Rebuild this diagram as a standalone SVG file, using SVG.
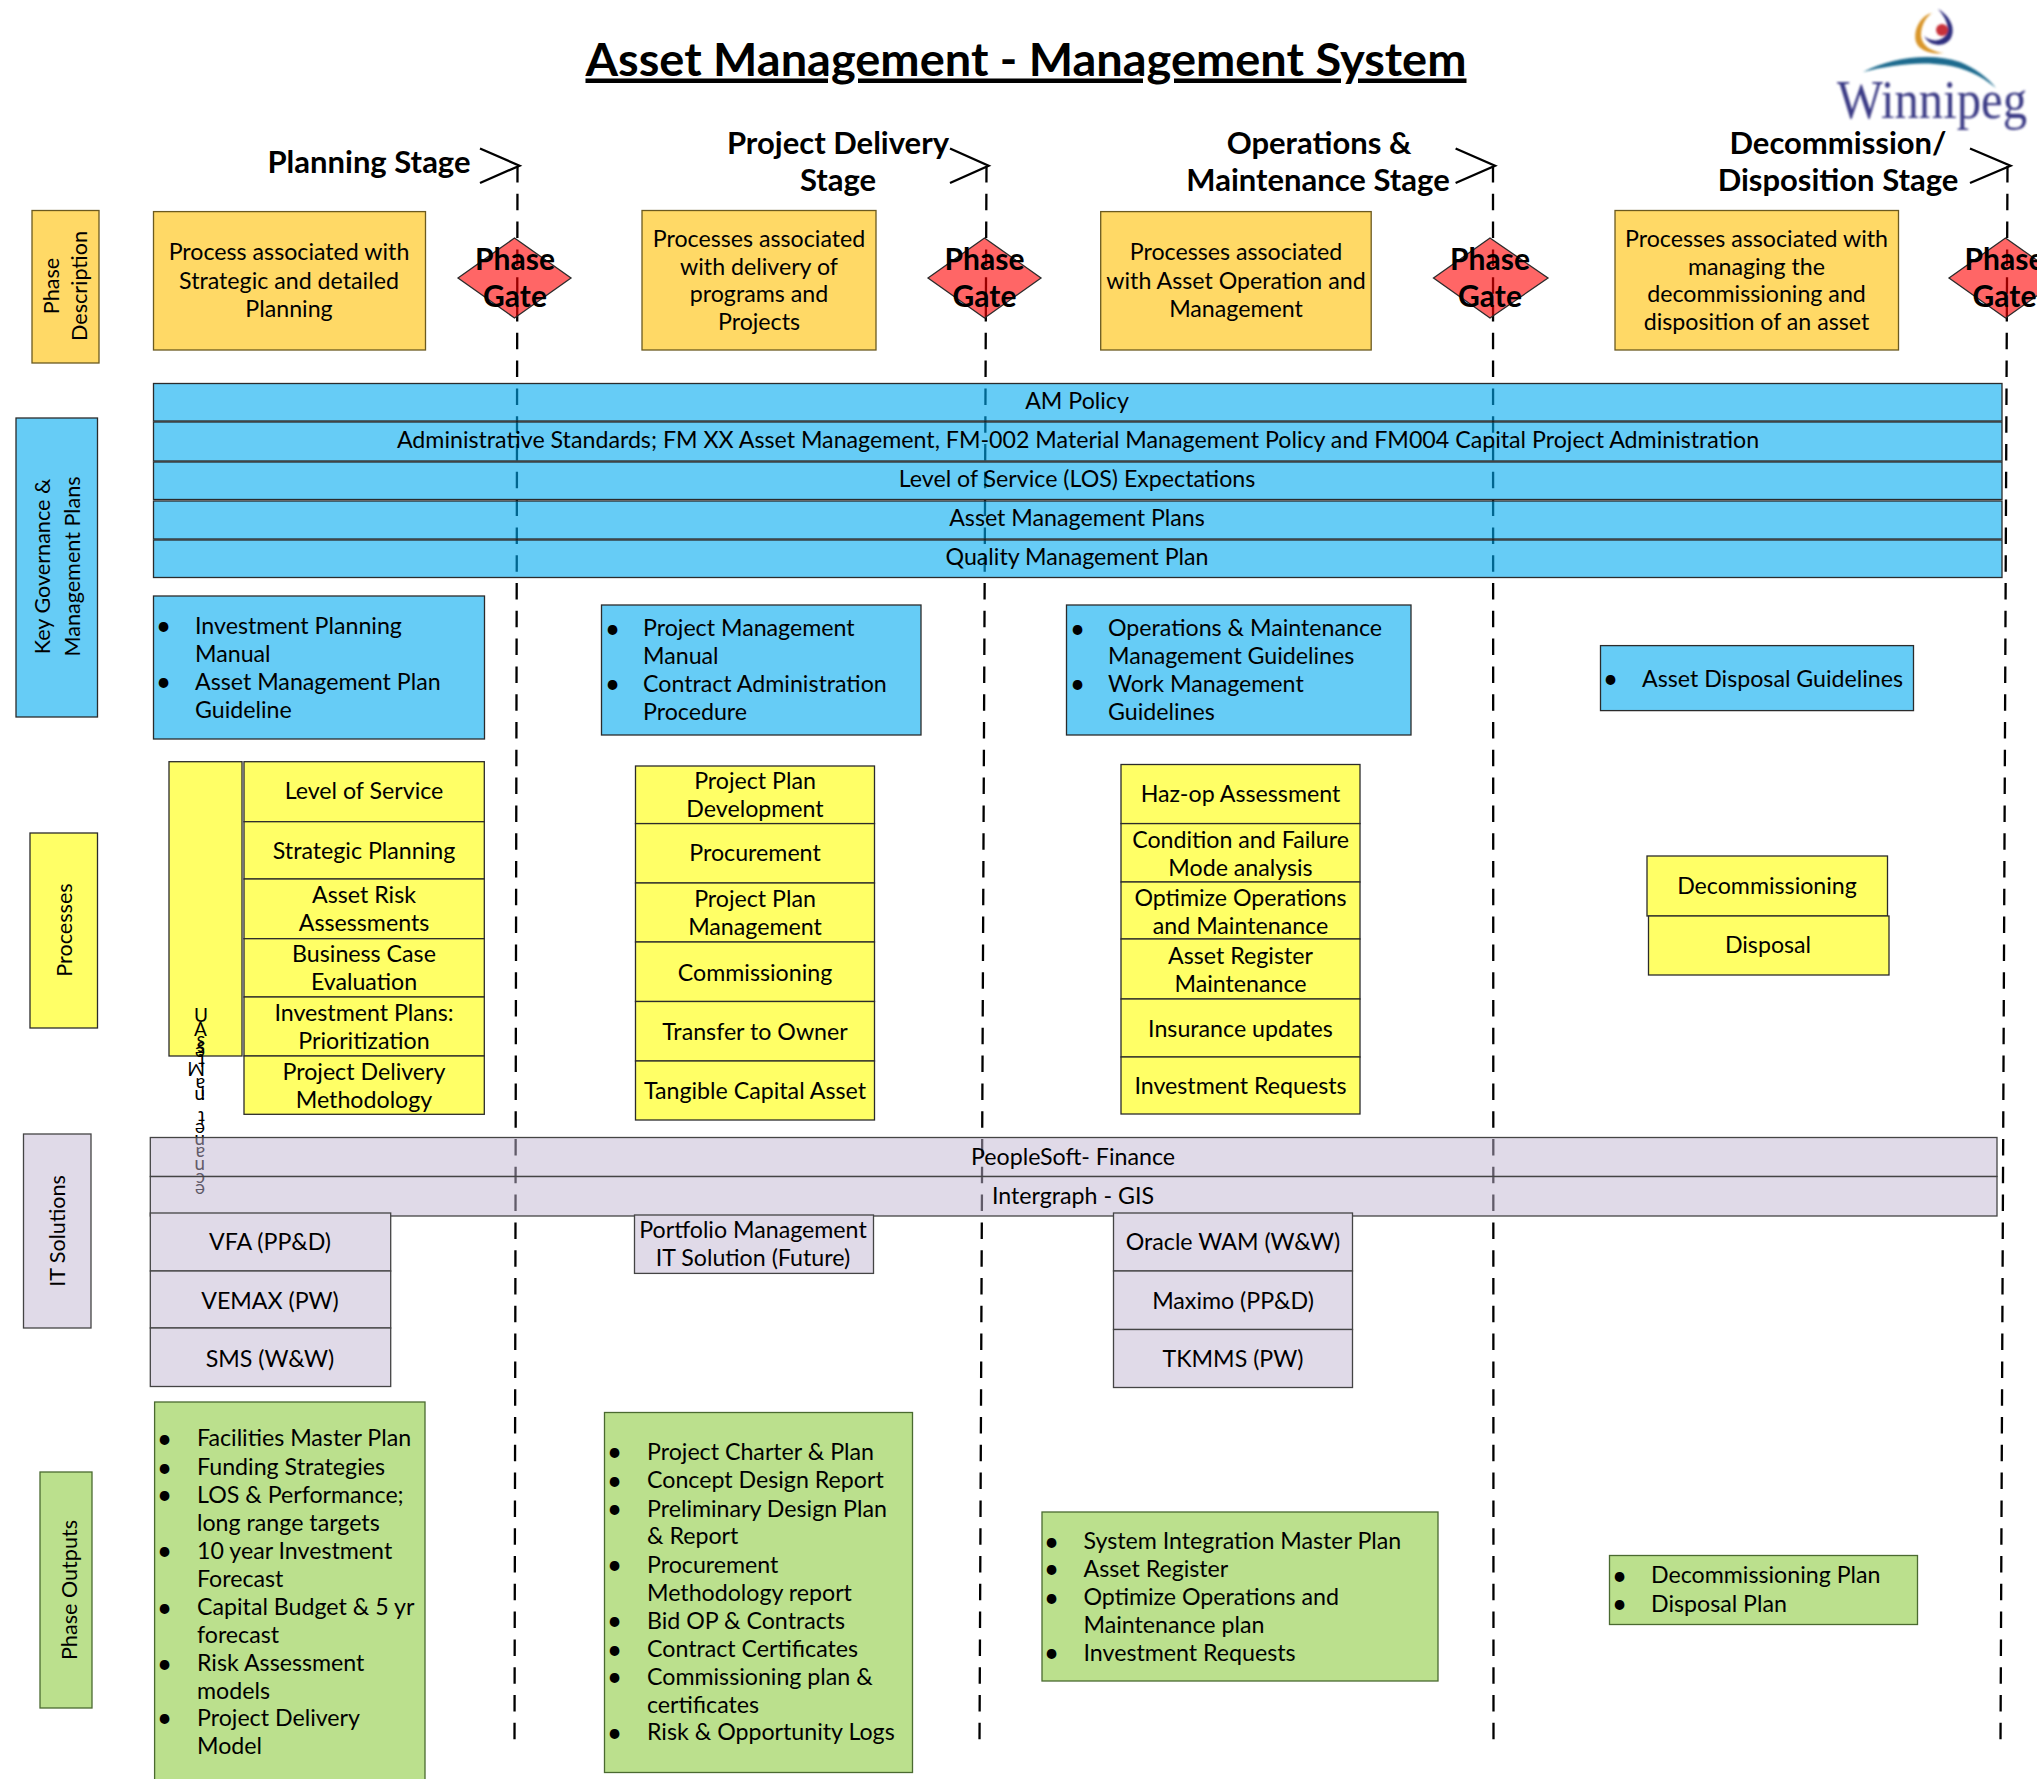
<svg xmlns="http://www.w3.org/2000/svg" width="2037" height="1779" viewBox="0 0 2037 1779">
<defs>
<style>
text{font-family:"Lato","Carlito","Noto Sans",sans-serif;font-size:23.2px;fill:#000}
.m{text-anchor:middle}
.r{font-size:21.6px}
.t{font-size:45px;font-weight:700;text-decoration:underline}
.h{font-size:31px;font-weight:700}
.g{font-size:30px;font-weight:700}
.b{font-size:26px}
rect,polygon.d{stroke:#2b2b2b;stroke-width:1.3}
.o{fill:#FFD966;stroke:#6b5a20}
.bl{fill:#66CCF6}
.bt{fill:#00AAF0;fill-opacity:.6}
.y{fill:#FFFF66}
.p{fill:#E0DAE8;stroke:#444}
.pt{fill:#C1B5D1;fill-opacity:.5;stroke:#444}
.gr{fill:#BBE08D;stroke:#4a6a30}
.d{fill:#FF0000;fill-opacity:.6}
.da{fill:none;stroke:#000;stroke-width:2.3;stroke-dasharray:16.5 11.3}
.ar{fill:none;stroke:#000;stroke-width:2.3}
</style>
<filter id="blur" x="-5%" y="-5%" width="110%" height="110%"><feGaussianBlur stdDeviation="0.9"/></filter>
</defs>
<rect width="2037" height="1779" style="fill:#fff;stroke:none"/>

<g id="connectors">
<path class="da" d="M517.5 166L514.5 1743"/>
<path class="da" d="M986.5 166L979.5 1743"/>
<path class="da" d="M1493 166L1493.5 1743"/>
<path class="da" d="M2007.5 166L2000.5 1743"/>
<path class="ar" d="M480 148.5L519.5 165.7L480 183"/>
<path class="ar" d="M950 148.5L988.6 165.7L950 183"/>
<path class="ar" d="M1455.6 148.5L1495 165.7L1455.6 183"/>
<path class="ar" d="M1970 148.5L2010.5 165.7L1970 183"/>
</g>

<g id="title"><text class="t m" x="1026" y="75.5" textLength="881" lengthAdjust="spacingAndGlyphs">Asset Management - Management System</text></g>

<g id="logo" filter="url(#blur)">
<path d="M1932 13C1920 16 1913 30 1916 42C1919 50 1930 55 1944 53C1932 52 1922 46 1921 36C1921 26 1925 18 1932 13Z" style="fill:#D9962C"/>
<path d="M1924 36C1930 47 1945 48 1951 38C1956 28 1950 16 1938 9C1946 18 1950 27 1946 35C1941 42 1931 42 1924 36Z" style="fill:#2F2D7E"/>
<circle cx="1942" cy="30" r="6" style="fill:#C8323A"/>
<path d="M1863 72C1890 58 1930 52 1960 62C1975 68 1988 78 1996 88C1980 75 1965 68 1945 65C1920 61 1890 65 1863 72Z" style="fill:#1B6A8E"/>
<text x="1837" y="118" textLength="190" lengthAdjust="spacingAndGlyphs" style="font-family:'Liberation Serif',serif;font-size:54px;fill:#3B3A85">Winnipeg</text>
</g>

<g id="stage-planning"><text class="h m" x="369" y="173">Planning Stage</text></g>
<g id="stage-delivery"><text class="h m" x="838" y="154">Project Delivery</text><text class="h m" x="838" y="191">Stage</text></g>
<g id="stage-operations"><text class="h m" x="1319" y="154">Operations &amp;</text><text class="h m" x="1318" y="191">Maintenance Stage</text></g>
<g id="stage-decommission"><text class="h m" x="1838" y="154">Decommission/</text><text class="h m" x="1838" y="191">Disposition Stage</text></g>

<g id="label-phase-description"><rect class="o" x="32" y="210.5" width="67" height="152.5"/>
<text class="m r" transform="translate(59 286) rotate(-90)"><tspan x="0" y="0">Phase</tspan><tspan x="0" y="28">Description</tspan></text></g>
<g id="label-governance"><rect class="bl" x="16" y="418" width="81.5" height="299"/>
<text class="m r" transform="translate(50 566.5) rotate(-90)"><tspan x="0" y="0">Key Governance &amp;</tspan><tspan x="0" y="30">Management Plans</tspan></text></g>
<g id="label-processes"><rect class="y" x="30" y="833" width="67.5" height="195"/>
<text class="m r" transform="translate(72 930) rotate(-90)">Processes</text></g>
<g id="label-it"><rect class="p" x="23.5" y="1134" width="67.5" height="194"/>
<text class="m r" transform="translate(65 1231) rotate(-90)">IT Solutions</text></g>
<g id="label-outputs"><rect class="gr" x="40" y="1472" width="52" height="236"/>
<text class="m r" transform="translate(77 1590) rotate(-90)">Phase Outputs</text></g>

<g id="desc-planning"><rect class="o" x="153.5" y="211.6" width="272" height="138.4"/>
<text class="m" x="289" y="260">Process associated with</text><text class="m" x="289" y="289">Strategic and detailed</text><text class="m" x="289" y="317">Planning</text></g>
<g id="desc-delivery"><rect class="o" x="642" y="210.5" width="234" height="139.5"/>
<text class="m" x="759" y="247">Processes associated</text><text class="m" x="759" y="275">with delivery of</text><text class="m" x="759" y="302">programs and</text><text class="m" x="759" y="330">Projects</text></g>
<g id="desc-operations"><rect class="o" x="1100.7" y="211.6" width="270.5" height="138.4"/>
<text class="m" x="1236" y="260">Processes associated</text><text class="m" x="1236" y="289">with Asset Operation and</text><text class="m" x="1236" y="317">Management</text></g>
<g id="desc-decommission"><rect class="o" x="1615" y="210.5" width="283.5" height="139.5"/>
<text class="m" x="1756.5" y="247">Processes associated with</text><text class="m" x="1756.5" y="275">managing the</text><text class="m" x="1756.5" y="302">decommissioning and</text><text class="m" x="1756.5" y="330">disposition of an asset</text></g>

<g id="gate-1"><polygon class="d" points="458,278 514.5,238 571,278 514.5,318"/><text class="g m" x="515" y="270">Phase</text><text class="g m" x="515" y="307">Gate</text></g>
<g id="gate-2"><polygon class="d" points="928,278 984.5,238 1041,278 984.5,318"/><text class="g m" x="984.5" y="270">Phase</text><text class="g m" x="984.5" y="307">Gate</text></g>
<g id="gate-3"><polygon class="d" points="1433.5,278 1490,238 1548,278 1490,318"/><text class="g m" x="1490" y="270">Phase</text><text class="g m" x="1490" y="307">Gate</text></g>
<g id="gate-4"><polygon class="d" points="1949,278 2005.5,238 2062,278 2005.5,318"/><text class="g m" x="2004.5" y="270">Phase</text><text class="g m" x="2004.5" y="307">Gate</text></g>

<g id="bar-am-policy"><rect class="bt" x="153.5" y="383.5" width="1848.5" height="37.5"/><text class="m" x="1077" y="409">AM Policy</text></g>
<g id="bar-standards"><rect class="bt" x="153.5" y="422" width="1848.5" height="39"/><text class="m" x="1078" y="448">Administrative Standards; FM XX Asset Management, FM-002 Material Management Policy and FM004 Capital Project Administration</text></g>
<g id="bar-los"><rect class="bt" x="153.5" y="462" width="1848.5" height="37.5"/><text class="m" x="1077" y="487">Level of Service (LOS) Expectations</text></g>
<g id="bar-amp"><rect class="bt" x="153.5" y="501" width="1848.5" height="38"/><text class="m" x="1077" y="526">Asset Management Plans</text></g>
<g id="bar-qmp"><rect class="bt" x="153.5" y="540" width="1848.5" height="37.5"/><text class="m" x="1077" y="565">Quality Management Plan</text></g>

<g id="guide-planning"><rect class="bl" x="153.5" y="596" width="331" height="143"/>
<text class="b" x="156" y="635">•</text><text x="195" y="634">Investment Planning</text><text x="195" y="662">Manual</text><text class="b" x="156" y="691">•</text><text x="195" y="690">Asset Management Plan</text><text x="195" y="718">Guideline</text></g>
<g id="guide-delivery"><rect class="bl" x="601.5" y="605" width="319.5" height="130"/>
<text class="b" x="605" y="638">•</text><text x="643" y="636">Project Management</text><text x="643" y="664">Manual</text><text class="b" x="605" y="693">•</text><text x="643" y="692">Contract Administration</text><text x="643" y="720">Procedure</text></g>
<g id="guide-operations"><rect class="bl" x="1066.5" y="605" width="344.5" height="130"/>
<text class="b" x="1070" y="638">•</text><text x="1108" y="636">Operations &amp; Maintenance</text><text x="1108" y="664">Management Guidelines</text><text class="b" x="1070" y="693">•</text><text x="1108" y="692">Work Management</text><text x="1108" y="720">Guidelines</text></g>
<g id="guide-disposal"><rect class="bl" x="1600.5" y="645.6" width="313" height="65"/>
<text class="b" x="1603" y="688">•</text><text x="1642" y="687">Asset Disposal Guidelines</text></g>

<g id="process-asset-maintenance"><rect class="y" x="169" y="761.7" width="73" height="294.3"/>
<text x="194 194 205 205 205 205 205 205 205 205 205 205 205 205 205 205 205 205" y="1022 1036 1036 1042 1047 1054 1060 1062 1078 1086 1090 1111 1123 1135 1147 1160 1173 1184" rotate="0 0 180" style="font-size:19px">UAsset Maintenance</text></g>

<g id="p1-1"><rect class="y" x="244" y="761.7" width="240.3" height="60"/><text class="m" x="364" y="799">Level of Service</text></g>
<g id="p1-2"><rect class="y" x="244" y="821.7" width="240.3" height="57.3"/><text class="m" x="364" y="859">Strategic Planning</text></g>
<g id="p1-3"><rect class="y" x="244" y="879" width="240.3" height="59.7"/><text class="m" x="364" y="902.5">Asset Risk</text><text class="m" x="364" y="930.5">Assessments</text></g>
<g id="p1-4"><rect class="y" x="244" y="938.7" width="240.3" height="58.3"/><text class="m" x="364" y="961.5">Business Case</text><text class="m" x="364" y="989.5">Evaluation</text></g>
<g id="p1-5"><rect class="y" x="244" y="997" width="240.3" height="59"/><text class="m" x="364" y="1020.5">Investment Plans:</text><text class="m" x="364" y="1048.5">Prioritization</text></g>
<g id="p1-6"><rect class="y" x="244" y="1056" width="240.3" height="58.3"/><text class="m" x="364" y="1079.5">Project Delivery</text><text class="m" x="364" y="1107.5">Methodology</text></g>

<g id="p2-1"><rect class="y" x="635.5" y="766" width="239" height="57.6"/><text class="m" x="755" y="789">Project Plan</text><text class="m" x="755" y="817">Development</text></g>
<g id="p2-2"><rect class="y" x="635.5" y="823.6" width="239" height="59.4"/><text class="m" x="755" y="861">Procurement</text></g>
<g id="p2-3"><rect class="y" x="635.5" y="883" width="239" height="59"/><text class="m" x="755" y="907">Project Plan</text><text class="m" x="755" y="935">Management</text></g>
<g id="p2-4"><rect class="y" x="635.5" y="942" width="239" height="59.5"/><text class="m" x="755" y="981">Commissioning</text></g>
<g id="p2-5"><rect class="y" x="635.5" y="1001.5" width="239" height="59.5"/><text class="m" x="755" y="1040">Transfer to Owner</text></g>
<g id="p2-6"><rect class="y" x="635.5" y="1061" width="239" height="59"/><text class="m" x="755" y="1099">Tangible Capital Asset</text></g>

<g id="p3-1"><rect class="y" x="1121" y="764.5" width="239" height="59.1"/><text class="m" x="1240.5" y="802">Haz-op Assessment</text></g>
<g id="p3-2"><rect class="y" x="1121" y="823.6" width="239" height="58.4"/><text class="m" x="1240.5" y="848">Condition and Failure</text><text class="m" x="1240.5" y="876">Mode analysis</text></g>
<g id="p3-3"><rect class="y" x="1121" y="882" width="239" height="57"/><text class="m" x="1240.5" y="906">Optimize Operations</text><text class="m" x="1240.5" y="934">and Maintenance</text></g>
<g id="p3-4"><rect class="y" x="1121" y="939" width="239" height="60"/><text class="m" x="1240.5" y="964">Asset Register</text><text class="m" x="1240.5" y="992">Maintenance</text></g>
<g id="p3-5"><rect class="y" x="1121" y="999" width="239" height="58"/><text class="m" x="1240.5" y="1037">Insurance updates</text></g>
<g id="p3-6"><rect class="y" x="1121" y="1057" width="239" height="57"/><text class="m" x="1240.5" y="1094">Investment Requests</text></g>

<g id="p4-1"><rect class="y" x="1647" y="856" width="240.5" height="60"/><text class="m" x="1767" y="894">Decommissioning</text></g>
<g id="p4-2"><rect class="y" x="1648.5" y="916" width="240.5" height="59"/><text class="m" x="1768" y="953">Disposal</text></g>

<g id="bar-peoplesoft"><rect class="pt" x="150.3" y="1137.5" width="1846.7" height="39"/><text class="m" x="1073" y="1165">PeopleSoft- Finance</text></g>
<g id="bar-intergraph"><rect class="pt" x="150.3" y="1176.5" width="1846.7" height="39.5"/><text class="m" x="1073" y="1204">Intergraph - GIS</text></g>

<g id="it-1-1"><rect class="p" x="150.3" y="1213" width="240.4" height="58"/><text class="m" x="270" y="1250">VFA (PP&amp;D)</text></g>
<g id="it-1-2"><rect class="p" x="150.3" y="1271" width="240.4" height="57"/><text class="m" x="270" y="1308.5">VEMAX (PW)</text></g>
<g id="it-1-3"><rect class="p" x="150.3" y="1328" width="240.4" height="58.5"/><text class="m" x="270" y="1366.5">SMS (W&amp;W)</text></g>
<g id="it-2"><rect class="p" x="634.5" y="1215" width="239" height="58.4"/><text class="m" x="753" y="1237.5">Portfolio Management</text><text class="m" x="753" y="1265.5">IT Solution (Future)</text></g>
<g id="it-3-1"><rect class="p" x="1113.5" y="1213" width="239" height="58"/><text class="m" x="1233" y="1250">Oracle WAM (W&amp;W)</text></g>
<g id="it-3-2"><rect class="p" x="1113.5" y="1271" width="239" height="58.5"/><text class="m" x="1233" y="1308.5">Maximo (PP&amp;D)</text></g>
<g id="it-3-3"><rect class="p" x="1113.5" y="1329.5" width="239" height="58"/><text class="m" x="1233" y="1366.5">TKMMS (PW)</text></g>

<g id="out-planning"><rect class="gr" x="154.6" y="1402" width="270.4" height="380"/>
<text class="b" x="157" y="1448">•</text><text x="197" y="1446">Facilities Master Plan</text>
<text class="b" x="157" y="1477">•</text><text x="197" y="1475">Funding Strategies</text>
<text class="b" x="157" y="1504">•</text><text x="197" y="1502.5">LOS &amp; Performance;</text><text x="197" y="1530.5">long range targets</text>
<text class="b" x="157" y="1560">•</text><text x="197" y="1558.5">10 year Investment</text><text x="197" y="1586.5">Forecast</text>
<text class="b" x="157" y="1617">•</text><text x="197" y="1615">Capital Budget &amp; 5 yr</text><text x="197" y="1643">forecast</text>
<text class="b" x="157" y="1673">•</text><text x="197" y="1671">Risk Assessment</text><text x="197" y="1699">models</text>
<text class="b" x="157" y="1727">•</text><text x="197" y="1726">Project Delivery</text><text x="197" y="1754">Model</text></g>
<g id="out-delivery"><rect class="gr" x="604.5" y="1412.5" width="308" height="360"/>
<text class="b" x="607" y="1461">•</text><text x="647" y="1460">Project Charter &amp; Plan</text>
<text class="b" x="607" y="1490">•</text><text x="647" y="1488">Concept Design Report</text>
<text class="b" x="607" y="1518">•</text><text x="647" y="1516.5">Preliminary Design Plan</text><text x="647" y="1544">&amp; Report</text>
<text class="b" x="607" y="1574">•</text><text x="647" y="1572.5">Procurement</text><text x="647" y="1600.5">Methodology report</text>
<text class="b" x="607" y="1630">•</text><text x="647" y="1628.5">Bid OP &amp; Contracts</text>
<text class="b" x="607" y="1658.5">•</text><text x="647" y="1656.5">Contract Certificates</text>
<text class="b" x="607" y="1686">•</text><text x="647" y="1685">Commissioning plan &amp;</text><text x="647" y="1712.5">certificates</text>
<text class="b" x="607" y="1742">•</text><text x="647" y="1740">Risk &amp; Opportunity Logs</text></g>
<g id="out-operations"><rect class="gr" x="1042" y="1512" width="396" height="169"/>
<text class="b" x="1044" y="1551">•</text><text x="1083.5" y="1549">System Integration Master Plan</text>
<text class="b" x="1044" y="1578">•</text><text x="1083.5" y="1577">Asset Register</text>
<text class="b" x="1044" y="1606.5">•</text><text x="1083.5" y="1604.5">Optimize Operations and</text><text x="1083.5" y="1632.5">Maintenance plan</text>
<text class="b" x="1044" y="1662">•</text><text x="1083.5" y="1660.5">Investment Requests</text></g>
<g id="out-decommission"><rect class="gr" x="1609.5" y="1555.5" width="308" height="69"/>
<text class="b" x="1612" y="1584.5">•</text><text x="1651" y="1583">Decommissioning Plan</text>
<text class="b" x="1612" y="1613">•</text><text x="1651" y="1611.5">Disposal Plan</text></g>
</svg>
